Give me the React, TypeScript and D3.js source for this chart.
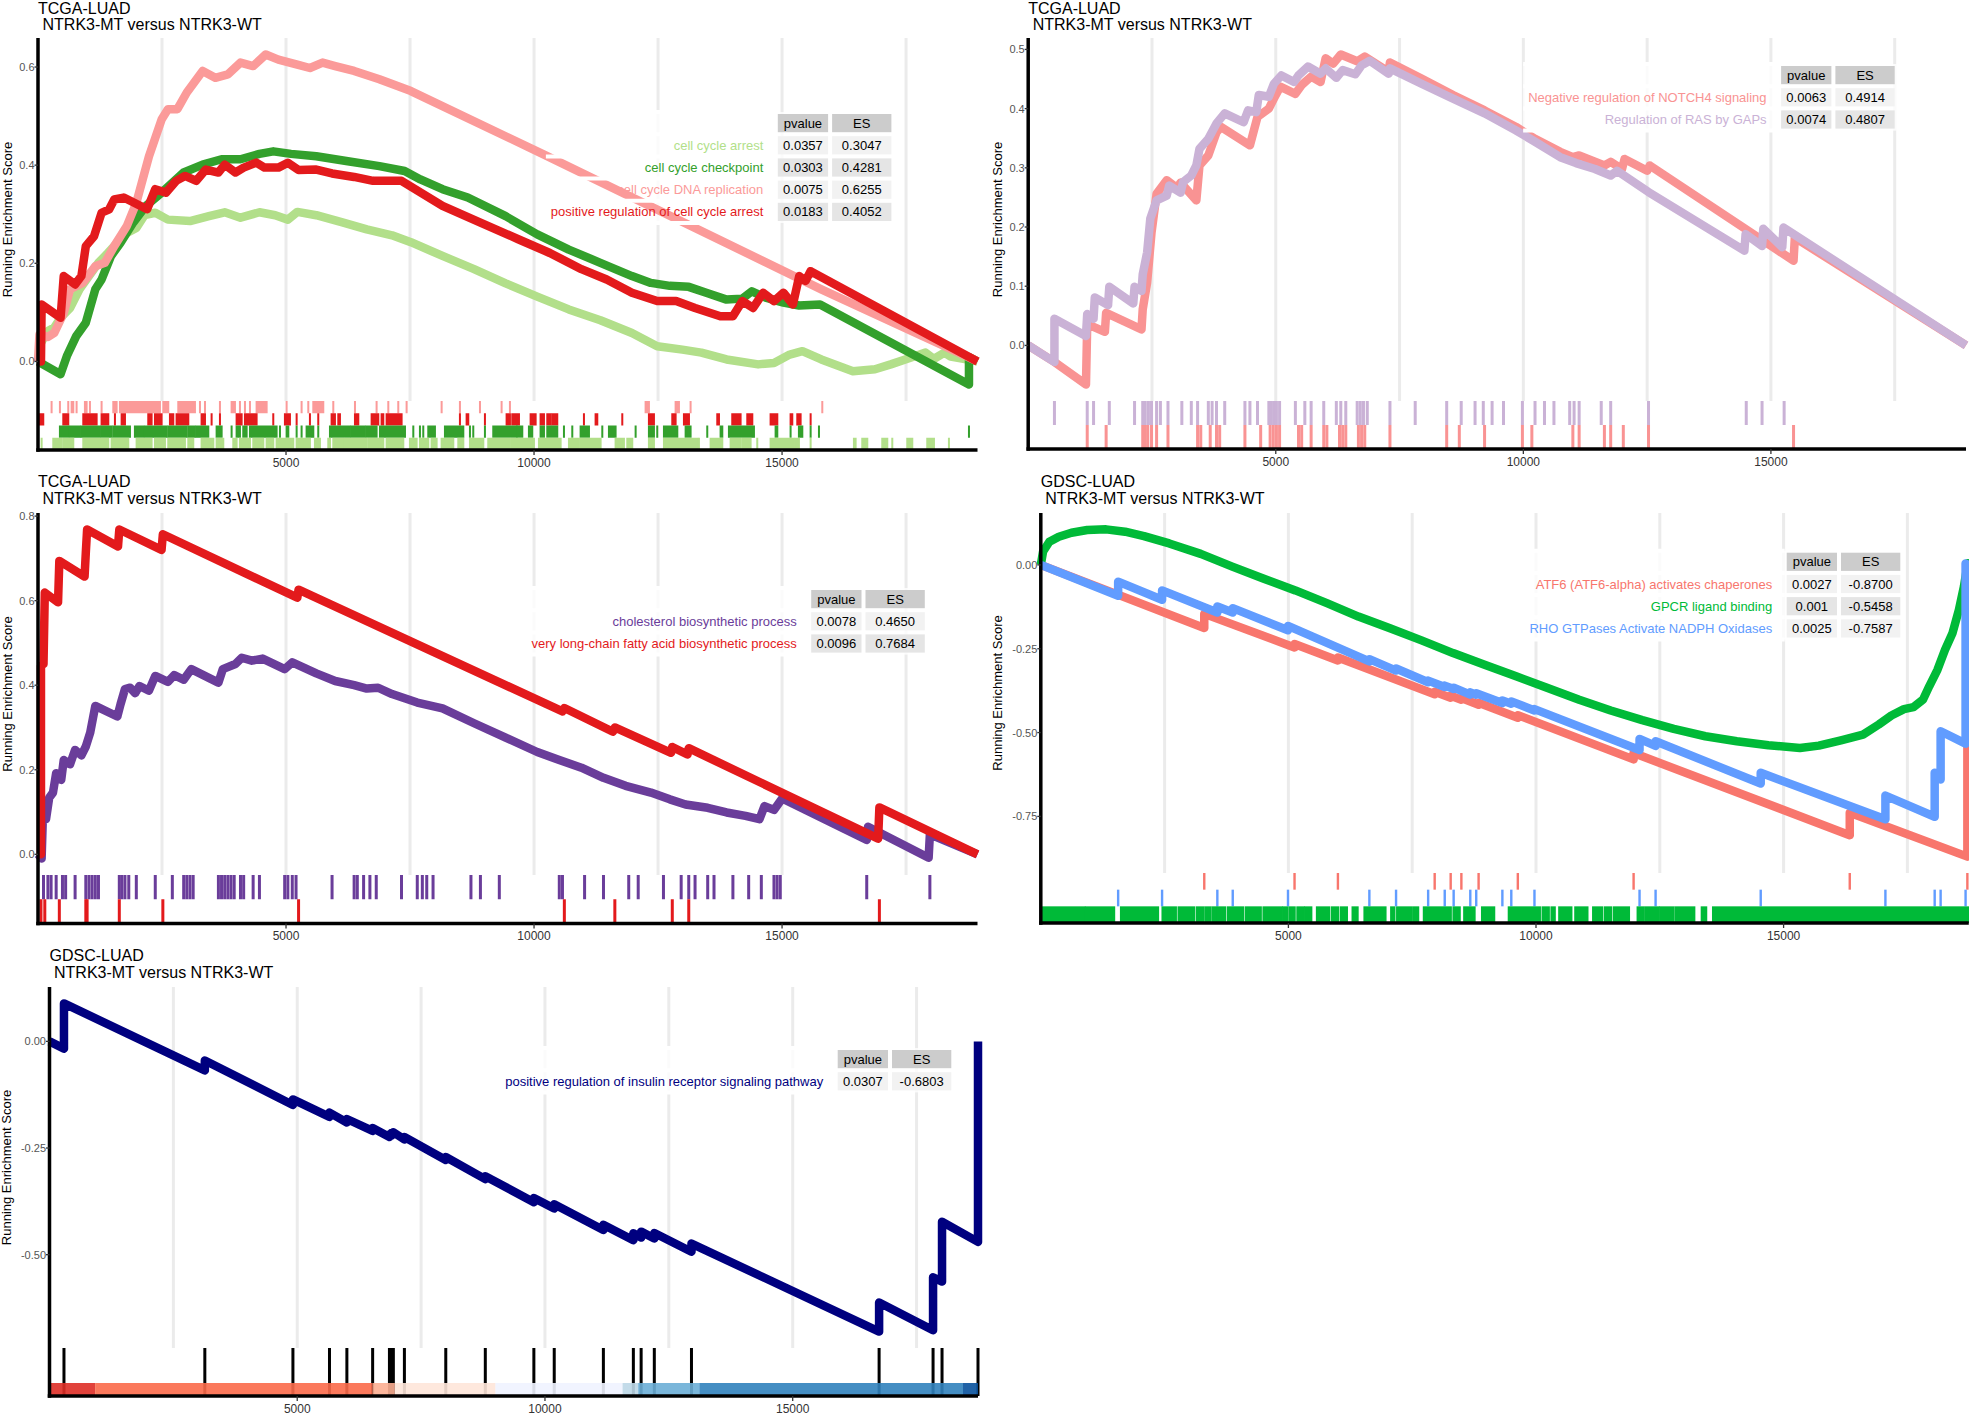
import React from "react";
import * as d3 from "d3";

type Pt = [number, number];
type Hit = number | [number, number];

// ---------------- shared ----------------
const TCGA_N = 18940;
const GDSC_N = 18740;
const X_TICKS = [5000, 10000, 15000];
const GRID_X = [2500, 5000, 7500, 10000, 12500, 15000, 17500];
const SUBTITLE = "NTRK3-MT versus NTRK3-WT";
const Y_TITLE = "Running Enrichment Score";
const TABLE_HEAD = ["pvalue", "ES"];

// ---------------- panel A : TCGA cell cycle ----------------
const A_NAMES = ["cell cycle arrest", "cell cycle checkpoint", "cell cycle DNA replication", "positive regulation of cell cycle arrest"];
const A_PVALUE = ["0.0357", "0.0303", "0.0075", "0.0183"];
const A_ES = ["0.3047", "0.4281", "0.6255", "0.4052"];
const A_COLORS = ["#B2DF8A", "#33A02C", "#FB9A99", "#E31A1C"];
const A_Y_TICKS = [0, 0.2, 0.4, 0.6];

const A_ARREST: Pt[] = [[0,0],[60,0.038],[201,0.062],[328,0.069],[455,0.089],[646,0.109],[837,0.147],[1028,0.174],[1219,0.201],[1410,0.221],[1600,0.242],[1791,0.262],[1982,0.272],[2148,0.298],[2364,0.303],[2619,0.289],[3064,0.286],[3446,0.296],[3764,0.304],[4082,0.293],[4464,0.304],[4782,0.298],[5037,0.289],[5228,0.3047],[5610,0.298],[6119,0.284],[6628,0.269],[7137,0.257],[7518,0.243],[8155,0.215],[8791,0.188],[9428,0.159],[10064,0.132],[10700,0.106],[11337,0.084],[11973,0.058],[12482,0.031],[12991,0.024],[13373,0.018],[13882,0.004],[14518,-0.006],[14837,-0.003],[15155,0.014],[15410,0.021],[15791,0.004],[16428,-0.020],[16873,-0.016],[17191,-0.006],[17573,0.007],[17891,0.018],[18057,0.005],[18273,0.018],[18400,0.010],[18940,0]];
const A_CHECKPOINT: Pt[] = [[0,0],[455,-0.026],[582,0.011],[773,0.052],[964,0.079],[1155,0.147],[1282,0.167],[1473,0.215],[1664,0.242],[1919,0.283],[2173,0.317],[2491,0.344],[2937,0.385],[3319,0.401],[3700,0.412],[4082,0.412],[4464,0.423],[4744,0.4281],[5100,0.423],[5610,0.418],[6246,0.408],[6882,0.398],[7391,0.388],[7709,0.371],[8155,0.351],[8664,0.334],[9428,0.296],[10064,0.259],[10700,0.228],[11337,0.201],[11973,0.174],[12355,0.160],[12737,0.154],[13119,0.152],[13501,0.139],[13882,0.126],[14200,0.128],[14391,0.143],[14671,0.130],[15028,0.120],[15346,0.114],[15766,0.116],[18768,-0.047],[18768,0.009],[18940,0]];
const A_DNA: Pt[] = [[0,0],[30,0.055],[201,0.050],[328,0.058],[519,0.099],[646,0.147],[900,0.160],[1155,0.194],[1346,0.201],[1537,0.235],[1791,0.276],[1982,0.323],[2237,0.418],[2491,0.493],[2619,0.514],[2810,0.514],[3000,0.548],[3319,0.592],[3573,0.578],[3828,0.585],[4082,0.609],[4337,0.602],[4591,0.6255],[4846,0.615],[5228,0.605],[5482,0.598],[5737,0.609],[5991,0.602],[6373,0.592],[6882,0.575],[7518,0.551],[10191,0.422],[15791,0.147],[18940,0]];
const A_POSREG: Pt[] = [[0,0],[60,0],[73,0.116],[455,0.089],[519,0.174],[748,0.157],[875,0.174],[964,0.235],[1130,0.255],[1282,0.303],[1435,0.310],[1537,0.330],[1728,0.334],[2199,0.310],[2364,0.351],[2580,0.344],[2784,0.368],[2962,0.378],[3191,0.368],[3382,0.391],[3637,0.385],[3764,0.401],[3980,0.385],[4146,0.395],[4400,0.4052],[4566,0.395],[4846,0.395],[5037,0.405],[5253,0.390],[5610,0.391],[5928,0.383],[6373,0.376],[6755,0.368],[7328,0.368],[8155,0.317],[8919,0.283],[9682,0.249],[10318,0.221],[10955,0.188],[11464,0.167],[11973,0.140],[12482,0.123],[12864,0.123],[13246,0.109],[13755,0.092],[14009,0.092],[14200,0.123],[14416,0.109],[14620,0.140],[14837,0.123],[15028,0.140],[15219,0.116],[15346,0.174],[15473,0.164],[15575,0.184],[18940,0]];

const A_RUG_DNA: Hit[] = [274,442,610,[678,711],778,[946,980],1047,1282,[1518,1585],[1652,2223],[2257,2458],[2526,2626],[2828,3164],3265,3366,3668,[3903,3970],4071,4172,4273,[4407,4609],5012,5314,5449,[5550,5751],5953,6390,6826,7062,7263,7431,8137,8506,8910,9346,9514,[12249,12316],[12854,12921],13156,15811];
const A_RUG_POSREG: Hit[] = [[39,106],[510,610],[913,1182],[1282,1417],1551,[1686,1753],[2223,2290],[2358,2492],[2660,2727],[2794,3030],[3298,3366],3500,3668,[4004,4105],[4172,4407],4743,[4978,5079],5214,5482,5650,[5919,5986],[6054,6087],[6390,6457],[6726,6860],[6927,6961],[7028,7330],8506,[8641,8674],9010,[9447,9514],[9561,9696],[9931,10032],[10132,10200],[10267,10334],[10368,10468],11006,[11241,11275],11779,[12316,12417],[12787,12854],[13022,13123],[13694,13728],[13996,14164],[14299,14400],[14769,14904],[15172,15206],[15307,15374],15576];
const A_RUG_CHECKPOINT: Hit[] = [[442,610],[644,846],[879,1249],[1282,1484],[1518,1854],[1954,2122],[2156,2593],[2626,2996],[3030,3164],[3198,3433],[3601,3702],3903,[4004,4071],[4138,4206],[4273,4810],4878,[5012,5046],5214,5314,[5415,5550],5650,[5886,6289],[6322,6591],[6625,6826],[6894,7398],7566,7700,7767,[7868,8002],[8204,8574],8708,8775,9010,[9178,9649],[9660,9763],[9897,9964],[10132,10200],[10267,10468],10603,10771,[10939,11107],11376,[11510,11644],12048,[12316,12417],12484,[12619,12888],[13056,13156],13492,[13761,13795],[13929,14433],[14870,14904],15172,[15340,15408],15576,15744,18768];
const A_RUG_ARREST: Hit[] = [73,[308,476],[510,711],[913,1417],[1484,1820],[1988,2290],[2358,2559],[2626,2962],[3030,3130],[3298,3534],[3601,3735],[3937,4004],[4071,4273],[4340,4542],[4609,4743],[4810,5146],[5214,5348],[5382,5482],[5583,5684],[5852,5886],[5953,6154],[6188,6625],[6658,6961],[7028,7364],[7498,7633],[7700,7868],[7935,8036],[8137,8372],[8473,8574],[8708,8977],[9077,9514],[9548,9998],[10099,10536],[10704,10905],[10939,11342],[11644,11812],[11880,11980],[12316,12417],[12619,13291],13324,[13560,13795],[13963,14164],[14198,14366],14500,[14769,15240],[15273,15340],15576,[16449,16483],[16617,16718],[17020,17121],17222,[17524,17625],[17927,18062],18364];

// ---------------- panel B : TCGA NOTCH4 / RAS ----------------
const B_NAMES = ["Negative regulation of NOTCH4 signaling", "Regulation of RAS by GAPs"];
const B_PVALUE = ["0.0063", "0.0074"];
const B_ES = ["0.4914", "0.4807"];
const B_COLORS = ["#F99393", "#CAB2D6"];
const B_Y_TICKS = [0, 0.1, 0.2, 0.3, 0.4, 0.5];

const B_NOTCH4: Pt[] = [[0,0],[530,-0.028],[1167,-0.066],[1192,0.036],[1549,0.023],[1574,0.055],[2288,0.027],[2313,0.061],[2402,0.106],[2491,0.191],[2593,0.256],[2797,0.279],[3001,0.266],[3077,0.275],[3396,0.245],[3459,0.304],[3638,0.321],[3803,0.360],[3892,0.369],[4478,0.338],[4631,0.386],[4860,0.400],[4962,0.417],[5090,0.437],[5396,0.425],[5523,0.440],[5714,0.454],[5905,0.445],[6007,0.485],[6160,0.476],[6313,0.4914],[6644,0.480],[6797,0.488],[7280,0.462],[7306,0.478],[7943,0.451],[8580,0.423],[9217,0.397],[9854,0.369],[10236,0.349],[10745,0.327],[11000,0.318],[11127,0.321],[11637,0.304],[11764,0.310],[11993,0.298],[12044,0.315],[12502,0.295],[12553,0.304],[15457,0.143],[15483,0.182],[18940,0]];
const B_RAS: Pt[] = [[0,0],[530,-0.028],[530,0.045],[1167,0.016],[1192,0.053],[1320,0.045],[1345,0.081],[1613,0.068],[1638,0.099],[2122,0.071],[2148,0.099],[2288,0.092],[2313,0.120],[2402,0.157],[2466,0.214],[2593,0.245],[2797,0.253],[2848,0.270],[3077,0.258],[3128,0.276],[3294,0.287],[3396,0.304],[3459,0.332],[3638,0.349],[3803,0.375],[3969,0.392],[4351,0.377],[4440,0.397],[4606,0.394],[4657,0.423],[4860,0.420],[4962,0.442],[5115,0.456],[5370,0.445],[5459,0.456],[5650,0.471],[5905,0.459],[6007,0.468],[6223,0.452],[6351,0.465],[6606,0.458],[6733,0.473],[6899,0.4807],[7280,0.459],[7306,0.468],[7943,0.442],[8580,0.417],[9217,0.392],[9854,0.363],[10236,0.344],[10745,0.318],[11064,0.308],[11446,0.298],[11764,0.287],[11891,0.295],[12528,0.259],[14464,0.160],[14489,0.188],[14821,0.168],[14846,0.197],[15229,0.166],[15254,0.199],[18940,0]];

const B_RUG_RAS: Hit[] = [530,1192,1320,1638,2148,2313,2364,2428,2491,2593,2670,2823,3103,3294,3421,3638,3714,3803,3969,4377,4478,4631,4860,4911,4962,5013,5077,5396,5587,5714,5969,6223,6313,6414,6644,6707,6771,6848,7306,7816,8452,8745,9025,9191,9369,9599,9981,10236,10427,10618,10936,11025,11127,11573,11764,12528,14502,14821,15267];
const B_RUG_NOTCH4: Hit[] = [1192,1574,2313,2364,2415,2491,2593,2823,3421,3485,3676,3803,3867,4377,4695,4886,4950,5013,5077,5459,5523,5714,5969,6032,6287,6351,6414,6669,6733,6797,7306,8452,8707,9217,9981,10172,11000,11127,11637,11764,12019,12528,15457];

// ---------------- panel C : TCGA lipid ----------------
const C_NAMES = ["cholesterol biosynthetic process", "very long-chain fatty acid biosynthetic process"];
const C_PVALUE = ["0.0078", "0.0096"];
const C_ES = ["0.4650", "0.7684"];
const C_COLORS = ["#6A3D9A", "#E31A1C"];
const C_Y_TICKS = [0, 0.2, 0.4, 0.6, 0.8];

const C_CHOL: Pt[] = [[0,0],[73,-0.010],[99,0.091],[162,0.083],[226,0.134],[302,0.146],[366,0.192],[468,0.176],[519,0.223],[646,0.213],[748,0.247],[875,0.234],[964,0.255],[1053,0.288],[1155,0.351],[1600,0.326],[1664,0.355],[1753,0.391],[1855,0.394],[1957,0.381],[2046,0.398],[2237,0.387],[2364,0.422],[2619,0.408],[2746,0.424],[2937,0.413],[3090,0.438],[3637,0.406],[3726,0.438],[3980,0.450],[4108,0.465],[4311,0.458],[4528,0.463],[4973,0.438],[5126,0.454],[5610,0.428],[5991,0.410],[6373,0.400],[6628,0.392],[6857,0.394],[7137,0.379],[7646,0.359],[8155,0.345],[8791,0.310],[9428,0.276],[10064,0.242],[10509,0.223],[10955,0.205],[11400,0.181],[11846,0.162],[12355,0.146],[12737,0.130],[13055,0.118],[13501,0.110],[13882,0.099],[14264,0.091],[14544,0.083],[14646,0.114],[14837,0.105],[15002,0.132],[16708,0.034],[16733,0.065],[17955,-0.008],[17980,0.047],[18940,0]];
const C_VLCFA: Pt[] = [[0,0],[60,0],[60,0.446],[111,0.450],[137,0.619],[404,0.596],[430,0.694],[939,0.657],[964,0.714],[990,0.7684],[1613,0.728],[1639,0.7684],[2491,0.720],[2517,0.757],[5228,0.607],[5253,0.626],[10573,0.338],[10611,0.346],[11591,0.290],[11629,0.300],[12762,0.240],[12787,0.254],[13093,0.236],[13119,0.251],[16937,0.037],[16962,0.111],[18940,0]];

const C_RUG_CHOL: Hit[] = [111,200,264,366,493,557,748,964,1028,1091,1155,1219,1639,1690,1753,1830,1982,2364,2708,2937,3000,3064,3128,3637,3700,3764,3828,3891,3955,4082,4146,4337,4464,4973,5037,5126,5202,5928,6373,6437,6564,6691,6819,7328,7646,7748,7837,7964,8728,8919,9300,10509,10573,11019,11400,11909,12100,12609,12966,13119,13246,13501,13628,14009,14327,14582,14837,14900,14964,16707,17980];
const C_RUG_VLCFA: Hit[] = [60,137,430,964,990,1639,2517,5253,10611,11629,12787,13119,16962];

// ---------------- panel D : GDSC ----------------
const D_NAMES = ["ATF6 (ATF6-alpha) activates chaperones", "GPCR ligand binding", "RHO GTPases Activate NADPH Oxidases"];
const D_PVALUE = ["0.0027", "0.001", "0.0025"];
const D_ES = ["-0.8700", "-0.5458", "-0.7587"];
const D_COLORS = ["#F8766D", "#00BA38", "#619CFF"];
const D_Y_TICKS = [0, -0.25, -0.5, -0.75];

const D_ATF6: Pt[] = [[0,0],[3301,-0.188],[3301,-0.146],[5124,-0.246],[5124,-0.236],[6000,-0.285],[6000,-0.276],[7954,-0.386],[7954,-0.378],[8277,-0.396],[8277,-0.390],[8493,-0.402],[8493,-0.397],[8841,-0.417],[8841,-0.411],[9633,-0.456],[9633,-0.448],[11971,-0.580],[11971,-0.561],[16336,-0.806],[16336,-0.739],[18711,-0.870],[18711,0],[18740,0]];
const D_GPCR: Pt[] = [[0,0],[46,0.040],[173,0.069],[364,0.084],[619,0.096],[937,0.104],[1319,0.106],[1702,0.099],[2084,0.086],[2593,0.064],[3230,0.033],[3867,-0.005],[4504,-0.041],[5141,-0.076],[5777,-0.114],[6414,-0.154],[7051,-0.189],[7688,-0.225],[8325,-0.263],[8962,-0.298],[9598,-0.332],[10235,-0.367],[10872,-0.402],[11509,-0.434],[12146,-0.463],[12783,-0.489],[13420,-0.511],[14056,-0.526],[14693,-0.538],[15330,-0.5458],[15712,-0.539],[16158,-0.523],[16604,-0.506],[16922,-0.476],[17177,-0.449],[17431,-0.430],[17623,-0.424],[17814,-0.402],[17941,-0.362],[18107,-0.313],[18260,-0.253],[18412,-0.203],[18540,-0.134],[18642,-0.064],[18718,0.005],[18740,0]];
const D_RHO: Pt[] = [[0,0],[1562,-0.092],[1562,-0.050],[2449,-0.104],[2449,-0.076],[3565,-0.142],[3565,-0.124],[3876,-0.142],[3876,-0.129],[4992,-0.195],[4992,-0.182],[6635,-0.288],[6635,-0.281],[7174,-0.315],[7174,-0.309],[7822,-0.350],[7822,-0.345],[8157,-0.364],[8157,-0.360],[8337,-0.370],[8337,-0.366],[8673,-0.387],[8673,-0.380],[8793,-0.387],[8793,-0.383],[9321,-0.412],[9321,-0.404],[9501,-0.414],[9501,-0.407],[9969,-0.434],[9969,-0.430],[12091,-0.552],[12091,-0.519],[12415,-0.540],[12415,-0.526],[14538,-0.652],[14538,-0.620],[17056,-0.7587],[17056,-0.688],[18051,-0.751],[18051,-0.620],[18171,-0.640],[18171,-0.496],[18675,-0.533],[18675,0.004],[18740,0]];

const D_RUG_ATF6: Hit[] = [3301,5124,6000,7954,8277,8493,8841,9633,11971,16336,18711];
const D_RUG_RHO: Hit[] = [1562,2449,3565,3876,4992,6635,7174,7822,8157,8337,8673,8793,9321,9501,9969,12091,12415,14538,17056,18051,18171,18675];
const D_RUG_GPCR: Hit[] = [[39,878],[914,1478],[1622,2365],[2461,2725],[2785,3097],[3157,3277],[3325,3421],[3469,3541],[3577,3720],[3780,4080],[4140,4440],[4500,4860],[4896,4980],[5028,5124],[5184,5304],[5340,5460],[5579,5819],[5879,5999],[6059,6179],[6299,6395],[6539,6958],[7078,7138],[7198,7474],[7522,7618],[7738,8277],[8337,8457],[8553,8757],[8913,9153],[9453,10076],[10136,10256],[10316,10376],[10472,10712],[10796,11036],[11156,11335],[11395,11515],[11575,11875],[12055,12175],[12223,12475],[12511,12774],[12822,13194],[13350,13434],[13578,18740]];

// ---------------- panel E : GDSC insulin ----------------
const E_NAMES = ["positive regulation of insulin receptor signaling pathway"];
const E_PVALUE = ["0.0307"];
const E_ES = ["-0.6803"];
const E_COLORS = ["#00007F"];
const E_Y_TICKS = [0, -0.25, -0.5];

const E_INSULIN: Pt[] = [[0,0],[292,-0.017],[292,0.089],[3135,-0.068],[3135,-0.045],[4913,-0.149],[4913,-0.136],[5651,-0.177],[5651,-0.167],[6002,-0.190],[6002,-0.182],[6522,-0.210],[6522,-0.203],[6861,-0.224],[6861,-0.218],[6900,-0.221],[6900,-0.215],[6940,-0.218],[6940,-0.213],[7163,-0.230],[7163,-0.224],[7998,-0.278],[7998,-0.271],[8796,-0.323],[8796,-0.316],[9776,-0.377],[9776,-0.367],[10187,-0.392],[10187,-0.382],[11179,-0.442],[11179,-0.430],[11784,-0.466],[11784,-0.450],[11941,-0.460],[11941,-0.446],[12207,-0.462],[12207,-0.449],[12957,-0.493],[12957,-0.474],[16744,-0.6803],[16744,-0.612],[17833,-0.677],[17833,-0.553],[18014,-0.563],[18014,-0.423],[18740,-0.470],[18740,0]];
const E_RUG: Hit[] = [292,3135,4913,5651,6002,6522,6861,6900,6940,7163,7998,8796,9776,10187,11179,11784,11941,12207,12957,16744,17833,18014,18740];
const E_BAR_BREAKS = [0, 921, 6522, 6970, 9002, 11566, 11881, 13115, 18437, 18740];
const E_BAR_COLORS = ["#DE2D26", "#FB6A4A", "#FCAE91", "#FEE5D9", "#EFF3FF", "#BDD7E7", "#6BAED6", "#3182BD", "#08519C"];

// ---------------- rendering ----------------
const FONT = "'Liberation Sans', Arial, Helvetica, sans-serif";
const LINE_W = 8.5;

interface Curve { name: string; color: string; pvalue: string; es: string; pts: Pt[] }
interface RugRow { color: string; hits: Hit[] }
interface PanelCfg {
  title: string; n: number;
  left: number; right: number; top: number; esBottom: number; rugBottom: number;
  yTicks: number[]; yDigits: number; ylabOffset: number;
  curves: Curve[]; rug: RugRow[]; tickW: number;
  tableRight: number; tableTop: number;
  bar?: { breaks: number[]; colors: string[]; height: number };
}

let measureCtx: CanvasRenderingContext2D | null = null;
function textWidth(s: string, size: number): number {
  if (!measureCtx) measureCtx = document.createElement("canvas").getContext("2d");
  if (!measureCtx) return s.length * size * 0.5;
  measureCtx.font = `${size}px "Liberation Sans", Arial, sans-serif`;
  return measureCtx.measureText(s).width;
}

function mk(names: string[], colors: string[], pv: string[], es: string[], pts: Pt[][]): Curve[] {
  return names.map((name, i) => ({ name, color: colors[i], pvalue: pv[i], es: es[i], pts: pts[i] }));
}

function Panel({ c }: { c: PanelCfg }) {
  const x = d3.scaleLinear().domain([0, c.n]).range([c.left, c.right]);
  const allY = c.curves.flatMap((k) => k.pts.map((p) => p[1]));
  const lo = d3.min(allY) as number;
  const hi = d3.max(allY) as number;
  const pad = (hi - lo) * 0.05;
  const y = d3.scaleLinear().domain([lo - pad, hi + pad]).range([c.esBottom, c.top]);
  const line = d3.line<Pt>().x((p) => x(p[0])).y((p) => y(p[1]));

  const barH = c.bar ? c.bar.height : 0;
  const rowH = c.bar ? (c.rugBottom - c.esBottom) : (c.rugBottom - c.esBottom) / c.rug.length;

  // table geometry
  const pitch = 22.2;
  const fs = 13;
  const pvL = c.tableRight + 12.5;
  const pvW = 54.3;
  const esW = 63.3;
  const maxLab = d3.max(c.curves, (k) => textWidth(k.name, fs)) as number;
  const labL = c.tableRight - maxLab - 5;
  const nRows = c.curves.length + 1;
  const tBottom = c.tableTop + nRows * pitch;
  const midY = (c.top + c.esBottom) / 2;
  const axW = 3.5;

  return (
    <g>
      {/* gridlines */}
      {GRID_X.filter((g) => g < c.n).map((g) => (
        <line key={"g" + g} x1={x(g)} x2={x(g)} y1={c.top} y2={c.esBottom} stroke="#EBEBEB" strokeWidth={3} />
      ))}
      {/* table backdrop */}
      <rect x={labL} y={c.tableTop} width={pvL + pvW + esW - labL} height={tBottom - c.tableTop} fill="#FFFFFF" opacity={0.8} />
      {/* curves */}
      {c.curves.map((k) => (
        <path key={"c" + k.name} d={line(k.pts) || ""} fill="none" stroke={k.color} strokeWidth={LINE_W} strokeLinejoin="round" />
      ))}
      {/* rug */}
      {c.rug.map((row, ri) => {
        const y0 = c.esBottom + ri * rowH;
        return (
          <g key={"r" + ri}>
            {row.hits.map((hh, hi2) => {
              const s = Array.isArray(hh) ? hh[0] : hh;
              const e = Array.isArray(hh) ? hh[1] : hh;
              return (
                <rect key={hi2} x={x(s) - c.tickW / 2} y={y0} width={x(e) - x(s) + c.tickW} height={rowH} fill={row.color} />
              );
            })}
          </g>
        );
      })}
      {c.bar &&
        c.bar.colors.map((col, i) => (
          <rect key={"b" + i} x={x(c.bar!.breaks[i])} y={c.rugBottom - barH} width={x(c.bar!.breaks[i + 1]) - x(c.bar!.breaks[i])} height={barH} fill={col} opacity={0.9} />
        ))}
      {/* table */}
      <g fontFamily={FONT} fontSize={fs}>
        {d3.range(nRows + 1).map((i) => (
          <line key={"sep" + i} x1={labL} x2={pvL} y1={c.tableTop + i * pitch} y2={c.tableTop + i * pitch} stroke="#FFFFFF" strokeWidth={4} />
        ))}
        {TABLE_HEAD.map((h, j) => {
          const cx = j === 0 ? pvL : pvL + pvW;
          const w = j === 0 ? pvW : esW;
          return (
            <g key={"h" + h}>
              <rect x={cx + 2} y={c.tableTop + 2} width={w - 4} height={pitch - 4} fill="#CCCCCC" />
              <text x={cx + w / 2} y={c.tableTop + pitch / 2} textAnchor="middle" dominantBaseline="central" fill="#000">{h}</text>
            </g>
          );
        })}
        {c.curves.map((k, i) => {
          const ty = c.tableTop + (i + 1) * pitch;
          const fill = i % 2 === 0 ? "#F2F2F2" : "#E5E5E5";
          return (
            <g key={"row" + k.name}>
              <text x={c.tableRight} y={ty + pitch / 2} textAnchor="end" dominantBaseline="central" fill={k.color}>{k.name}</text>
              <rect x={pvL + 2} y={ty + 2} width={pvW - 4} height={pitch - 4} fill={fill} />
              <rect x={pvL + pvW + 2} y={ty + 2} width={esW - 4} height={pitch - 4} fill={fill} />
              <text x={pvL + pvW / 2} y={ty + pitch / 2} textAnchor="middle" dominantBaseline="central" fill="#000">{k.pvalue}</text>
              <text x={pvL + pvW + esW / 2} y={ty + pitch / 2} textAnchor="middle" dominantBaseline="central" fill="#000">{k.es}</text>
            </g>
          );
        })}
      </g>
      {/* axes */}
      <line x1={c.left} x2={c.left} y1={c.top} y2={c.rugBottom + axW / 2} stroke="#000" strokeWidth={axW} />
      <line x1={c.left - axW / 2} x2={c.right} y1={c.rugBottom} y2={c.rugBottom} stroke="#000" strokeWidth={axW} />
      {X_TICKS.map((t) => (
        <g key={"xt" + t}>
          <line x1={x(t)} x2={x(t)} y1={c.rugBottom} y2={c.rugBottom + 5} stroke="#333" strokeWidth={1.3} />
          <text x={x(t)} y={c.rugBottom + 16.5} textAnchor="middle" fontFamily={FONT} fontSize={12} fill="#333">{t}</text>
        </g>
      ))}
      {c.yTicks.map((t) => (
        <g key={"yt" + t}>
          <line x1={c.left - 3.5} x2={c.left} y1={y(t)} y2={y(t)} stroke="#333" strokeWidth={1.3} />
          <text x={c.left - 3.5} y={y(t)} textAnchor="end" dominantBaseline="central" fontFamily={FONT} fontSize={11} fill="#555">{t.toFixed(c.yDigits)}</text>
        </g>
      ))}
      <text transform={`translate(${c.left - c.ylabOffset},${midY}) rotate(-90)`} textAnchor="middle" fontFamily={FONT} fontSize={13} fill="#000">{Y_TITLE}</text>
      {/* titles */}
      <text x={c.left} y={Math.max(c.top - 26, 14)} fontFamily={FONT} fontSize={16} fill="#000">{c.title}</text>
      <text x={c.left + 4.5} y={Math.max(c.top - 9, 30)} fontFamily={FONT} fontSize={16} fill="#000">{SUBTITLE}</text>
    </g>
  );
}

export default function App() {
  const panels: PanelCfg[] = [
    {
      title: "TCGA-LUAD", n: TCGA_N, left: 38, right: 977.5, top: 38, esBottom: 401, rugBottom: 450,
      yTicks: A_Y_TICKS, yDigits: 1, ylabOffset: 26.5,
      curves: mk(A_NAMES, A_COLORS, A_PVALUE, A_ES, [A_ARREST, A_CHECKPOINT, A_DNA, A_POSREG]),
      rug: [
        { color: A_COLORS[2], hits: A_RUG_DNA },
        { color: A_COLORS[3], hits: A_RUG_POSREG },
        { color: A_COLORS[1], hits: A_RUG_CHECKPOINT },
        { color: A_COLORS[0], hits: A_RUG_ARREST },
      ],
      tickW: 2, tableRight: 763.3, tableTop: 112,
    },
    {
      title: "TCGA-LUAD", n: TCGA_N, left: 1028.2, right: 1966, top: 38, esBottom: 401, rugBottom: 449,
      yTicks: B_Y_TICKS, yDigits: 1, ylabOffset: 26.5,
      curves: mk(B_NAMES, B_COLORS, B_PVALUE, B_ES, [B_NOTCH4, B_RAS]),
      rug: [
        { color: B_COLORS[1], hits: B_RUG_RAS },
        { color: B_COLORS[0], hits: B_RUG_NOTCH4 },
      ],
      tickW: 3, tableRight: 1766.6, tableTop: 64,
    },
    {
      title: "TCGA-LUAD", n: TCGA_N, left: 38, right: 977.5, top: 513, esBottom: 875, rugBottom: 923.5,
      yTicks: C_Y_TICKS, yDigits: 1, ylabOffset: 26.5,
      curves: mk(C_NAMES, C_COLORS, C_PVALUE, C_ES, [C_CHOL, C_VLCFA]),
      rug: [
        { color: C_COLORS[0], hits: C_RUG_CHOL },
        { color: C_COLORS[1], hits: C_RUG_VLCFA },
      ],
      tickW: 3, tableRight: 796.7, tableTop: 588,
    },
    {
      title: "GDSC-LUAD", n: GDSC_N, left: 1040.8, right: 1968.8, top: 513, esBottom: 873, rugBottom: 923,
      yTicks: D_Y_TICKS, yDigits: 2, ylabOffset: 38.5,
      curves: mk(D_NAMES, D_COLORS, D_PVALUE, D_ES, [D_ATF6, D_GPCR, D_RHO]),
      rug: [
        { color: D_COLORS[0], hits: D_RUG_ATF6 },
        { color: D_COLORS[2], hits: D_RUG_RHO },
        { color: D_COLORS[1], hits: D_RUG_GPCR },
      ],
      tickW: 2.4, tableRight: 1772.2, tableTop: 550.7,
    },
    {
      title: "GDSC-LUAD", n: GDSC_N, left: 49.5, right: 978, top: 987, esBottom: 1348, rugBottom: 1396,
      yTicks: E_Y_TICKS, yDigits: 2, ylabOffset: 38.1,
      curves: mk(E_NAMES, E_COLORS, E_PVALUE, E_ES, [E_INSULIN]),
      rug: [{ color: "#000000", hits: E_RUG }],
      tickW: 3, tableRight: 823.2, tableTop: 1048,
      bar: { breaks: E_BAR_BREAKS, colors: E_BAR_COLORS, height: 13 },
    },
  ];
  return (
    <svg width={1969} height={1414} viewBox="0 0 1969 1414" style={{ position: "absolute", left: 0, top: 0, background: "#fff" }}>
      <rect x={0} y={0} width={1969} height={1414} fill="#FFFFFF" />
      {panels.map((p, i) => (
        <Panel key={i} c={p} />
      ))}
    </svg>
  );
}
